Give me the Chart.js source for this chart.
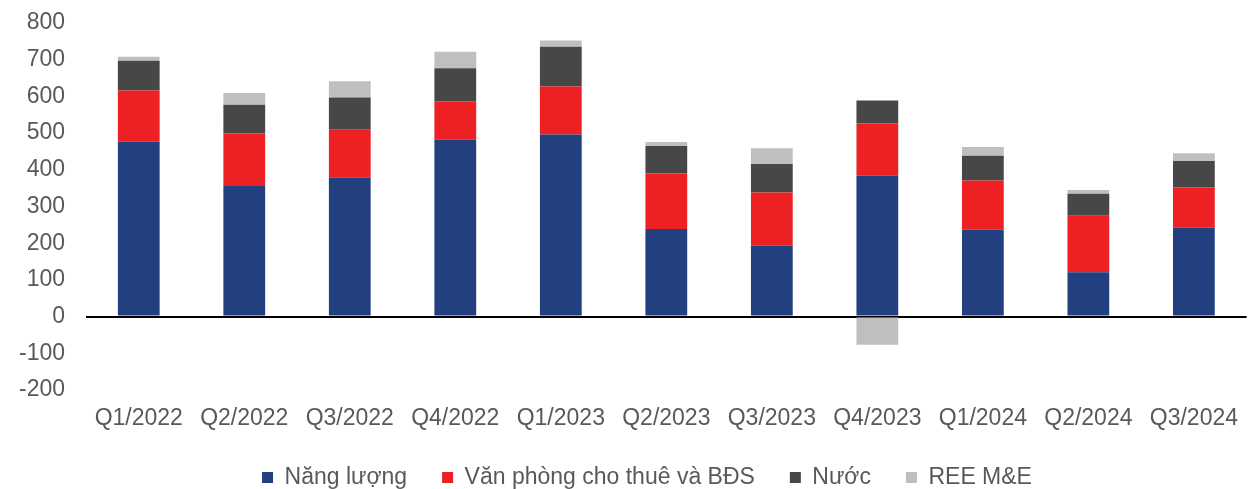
<!DOCTYPE html>
<html>
<head>
<meta charset="utf-8">
<script src="https://cdn.jsdelivr.net/npm/chart.js@4.4.1/dist/chart.umd.min.js"></script>
<style>
  html, body { margin: 0; padding: 0; background: #fff; overflow: hidden; }
  #outer { width: 1248px; height: 489px; overflow: hidden; position: relative; }
  #wrap { position: absolute; left: 0; top: 0; width: 1253px; height: 499px; }
</style>
</head>
<body>
<div id="outer"><div id="wrap"><canvas id="c"></canvas></div></div>
<script>
const categories = ["Q1/2022","Q2/2022","Q3/2022","Q4/2022","Q1/2023","Q2/2023","Q3/2023","Q4/2023","Q1/2024","Q2/2024","Q3/2024"];
const nangLuong = [477, 356, 378, 482, 496, 239, 194, 384, 237, 121, 242];
const vanPhong  = [139, 143, 131, 105, 131, 151, 144, 142, 134, 154, 110];
const nuoc      = [81, 78, 88, 90, 108, 75, 78, 63, 67, 60, 72];
const reeME     = [11, 32, 44, 45, 17, 11, 43, -77, 24, 10, 21];
const seriesNames = ["Năng lượng", "Văn phòng cho thuê và BĐS", "Nước", "REE M&E"];
const yTicks = [-200, -100, 0, 100, 200, 300, 400, 500, 600, 700, 800];

const FONT = "'Liberation Sans', Arial, sans-serif";
const TXT = "#595959";
const FS = 23;

const mk = (label, data, color) => ({
  label, data, backgroundColor: color, borderWidth: 0,
  barPercentage: 0.396, categoryPercentage: 1.0, stack: "s"
});

const shiftLegend = {
  id: "shiftLegend",
  afterLayout(chart) {
    const lg = chart.legend;
    if (lg) {
      const dx = 647 - (lg.left + lg.right) / 2;
      lg.left += dx; lg.right += dx;
    }
  }
};

new Chart(document.getElementById("c"), {
  type: "bar",
  data: {
    labels: categories,
    datasets: [
      mk(seriesNames[0], nangLuong, "#223F7F"),
      mk(seriesNames[1], vanPhong, "#ED2124"),
      mk(seriesNames[2], nuoc, "#474747"),
      mk(seriesNames[3], reeME, "#BFBFBF")
    ]
  },
  plugins: [shiftLegend],
  options: {
    responsive: true,
    maintainAspectRatio: false,
    animation: false,
    layout: { padding: { left: 0, right: 0, top: 23, bottom: 0 } },
    plugins: {
      tooltip: { enabled: false },
      legend: {
        position: "bottom",
        labels: {
          font: { family: FONT, size: FS },
          color: TXT,
          boxWidth: 11,
          boxHeight: 11,
          padding: 35
        }
      }
    },
    scales: {
      x: {
        stacked: true,
        grid: { display: false, drawTicks: false },
        border: { display: false },
        ticks: { color: TXT, font: { family: FONT, size: FS }, padding: 15, maxRotation: 0, autoSkip: false },
        afterFit: (s) => { s.height = 41; }
      },
      y: {
        stacked: true,
        min: -200, max: 800,
        afterBuildTicks: (s) => { s.ticks = yTicks.map(v => ({ value: v })); },
        grid: {
          drawTicks: true,
          tickLength: 21,
          tickColor: "rgba(0,0,0,0)",
          color: (ctx) => (ctx.tick && ctx.tick.value === 0) ? "#000000" : "rgba(0,0,0,0)",
          lineWidth: (ctx) => (ctx.tick && ctx.tick.value === 0) ? 2 : 0
        },
        border: { display: false },
        ticks: { color: TXT, font: { family: FONT, size: FS }, padding: 0 },
        afterFit: (s) => { s.width = 86; }
      }
    }
  }
});
</script>
</body>
</html>
